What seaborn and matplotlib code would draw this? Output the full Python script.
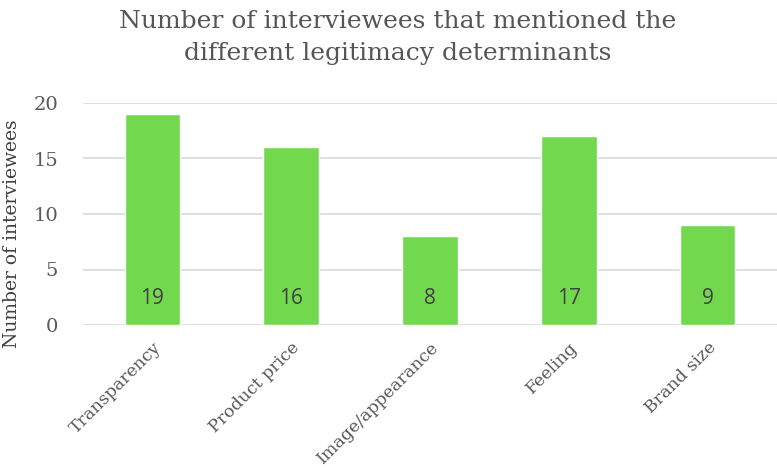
import matplotlib
matplotlib.use("Agg")
import matplotlib.pyplot as plt
import seaborn as sns
import pandas as pd

categories = ["Transparency", "Product price", "Image/appearance", "Feeling", "Brand size"]
values = [19, 16, 8, 17, 9]
yticks = [0, 5, 10, 15, 20]

title = "Number of interviewees that mentioned the\ndifferent legitimacy determinants"
ylabel = "Number of interviewees"

sns.set_theme(style="white")
plt.rcParams["font.family"] = ["DejaVu Serif"]

df = pd.DataFrame({"category": categories, "count": values})

fig = plt.figure(figsize=(7.77, 4.70), dpi=100)
ax = fig.add_axes([83 / 777, 1 - 325 / 470, 694 / 777, 222 / 470])

sns.barplot(data=df, x="category", y="count", color="#72D94F", width=0.4,
            saturation=1, ax=ax, zorder=3)

ax.set_ylim(0, 20)
ax.set_xlim(-0.5, 4.5)
ax.set_yticks(yticks)
ax.yaxis.grid(True, color="#D9D9D9", linewidth=1.2, zorder=0)
ax.set_axisbelow(True)
for s in ax.spines.values():
    s.set_visible(False)

gray = "#595959"
ax.tick_params(axis="y", length=0, labelsize=14, labelcolor=gray, pad=18)
ax.tick_params(axis="x", length=0, labelsize=12.5, labelcolor=gray, pad=10)
for lbl in ax.get_xticklabels():
    lbl.set_rotation(45)
    lbl.set_ha("right")
    lbl.set_rotation_mode("anchor")

ax.set_xlabel("")
ax.set_ylabel(ylabel, fontsize=13.5, color="#3F3F3F")
ax.yaxis.set_label_coords(-0.09, 0.41)

for i, v in enumerate(values):
    ax.text(i, 2.4, str(v), ha="center", va="center", fontsize=15,
            color="#404040", family=["Open Sans", "DejaVu Sans"], zorder=4)

fig.text(0.512, 0.978, title, ha="center", va="top", fontsize=18,
         color="#555555", linespacing=1.5)

fig.savefig("out.png", dpi=100)
